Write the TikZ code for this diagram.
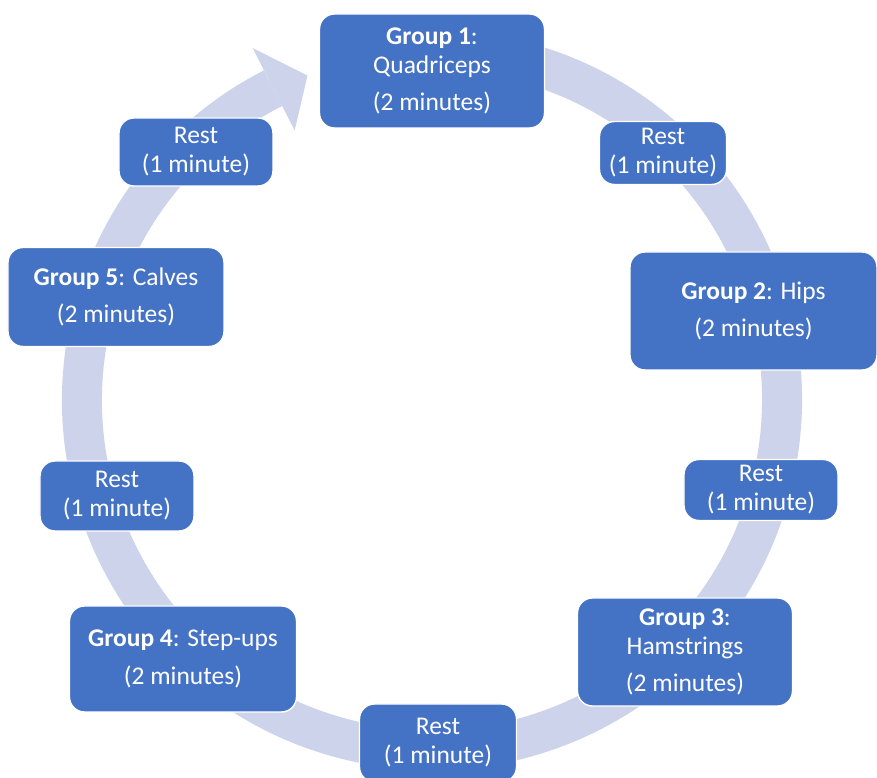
\documentclass[tikz,border=0pt]{standalone}
\usepackage{fontspec}
\setmainfont{Carlito}
\usepackage{tikz}
\usetikzlibrary{calc}
\definecolor{boxblue}{RGB}{68,114,196}
\definecolor{ringgrey}{RGB}{205,211,234}

\begin{document}
\begin{tikzpicture}[
  every node/.style = {shape=rectangle, rounded corners=0.3cm,
    draw=white, line width=0.8pt, fill=boxblue, text=white,
    align=center, inner sep=2pt,
    font=\fontsize{14.5}{16.5}\selectfont},
  ring/.style = {draw=ringgrey, line width=0.8cm}]
  \useasboundingbox (-8.64,-7.56) rectangle (8.90,8.0);
  % the cycle arrow
  \draw[ring] (80:7) arc (80:-243:7);
  \fill[ringgrey] (117:7.9) -- (111:6.95) -- (117:6.05) -- cycle;
  % groups and rests
  \node[minimum width=4.5cm, minimum height=2.28cm] (g1) at (0,6.58)
    {\textbf{Group 1}:\\ Quadriceps\\[5pt] (2 minutes)};
  \node[minimum width=2.54cm, minimum height=1.26cm] (r1) at (4.62,4.94)
    {Rest\\ (1 minute)};
  \node[minimum width=4.94cm, minimum height=2.36cm] (g2) at (6.43,1.78)
    {\textbf{Group 2}: Hips\\[5pt] (2 minutes)};
  \node[minimum width=3.08cm, minimum height=1.22cm] (r2) at (6.58,-1.80)
    {Rest\\ (1 minute)};
  \node[minimum width=4.3cm, minimum height=2.16cm] (g3) at (5.06,-5.04)
    {\textbf{Group 3}:\\ Hamstrings\\[5pt] (2 minutes)};
  \node[minimum width=3.14cm, minimum height=1.56cm] (r3) at (0.12,-6.86)
    {Rest\\ (1 minute)};
  \node[minimum width=4.54cm, minimum height=2.12cm] (g4) at (-4.98,-5.18)
    {\textbf{Group 4}: Step-ups\\[5pt] (2 minutes)};
  \node[minimum width=3.08cm, minimum height=1.40cm] (r4) at (-6.30,-1.92)
    {Rest\\ (1 minute)};
  \node[minimum width=4.32cm, minimum height=1.98cm] (g5) at (-6.32,2.06)
    {\textbf{Group 5}: Calves\\[5pt] (2 minutes)};
  \node[minimum width=3.08cm, minimum height=1.36cm] (r5) at (-4.72,4.96)
    {Rest\\ (1 minute)};
\end{tikzpicture}
\end{document}
